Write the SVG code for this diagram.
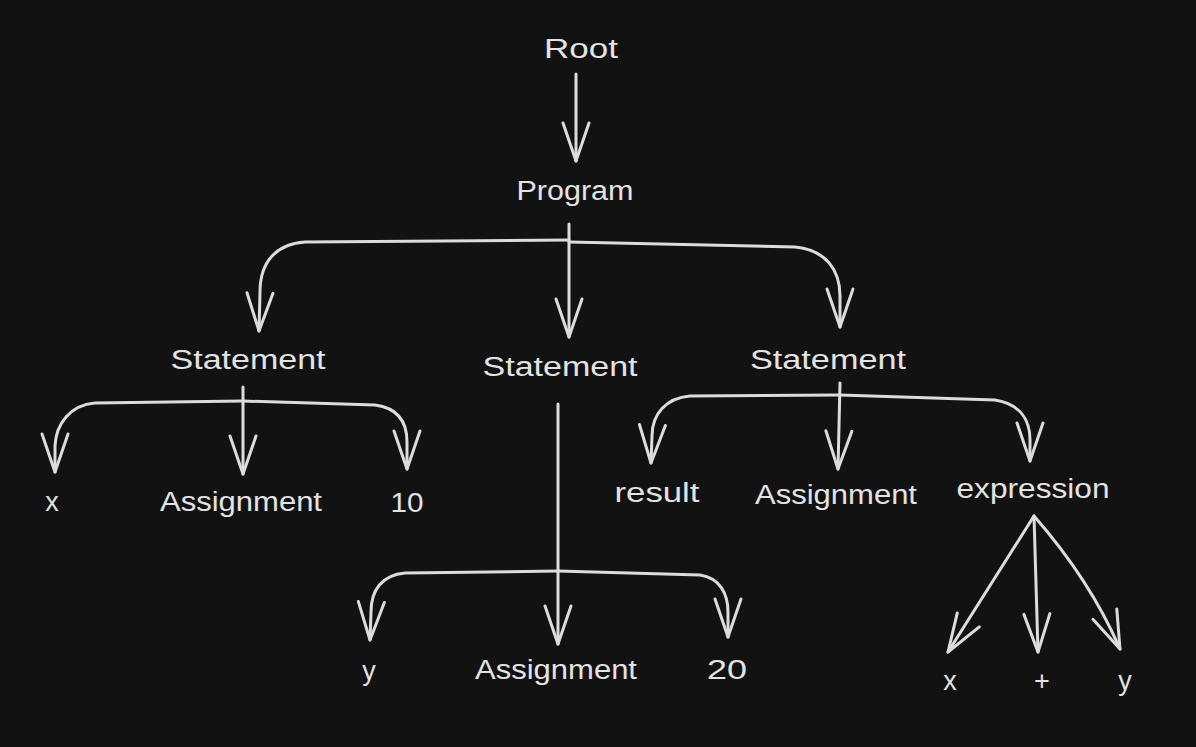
<svg xmlns="http://www.w3.org/2000/svg" width="1196" height="747" viewBox="0 0 1196 747">
<defs>
<style>
text{font-family:"Liberation Sans","Noto Sans",sans-serif;font-size:27px;fill:#e3e3e3;text-anchor:middle}
.c path{fill:none;stroke:#dcdcdc;stroke-width:3;stroke-linecap:round;stroke-linejoin:round;marker-end:url(#ah)}
</style>
<marker id="ah" markerUnits="userSpaceOnUse" markerWidth="60" markerHeight="60" refX="0" refY="0" orient="auto" overflow="visible">
<path d="M -38 -13 L 0 0 L -38 13" fill="none" stroke="#dcdcdc" stroke-width="3" stroke-linecap="round" stroke-linejoin="round"/>
</marker>
</defs>
<rect width="1196" height="747" fill="#121212"/>
<g class="c" id="connectors">
<path d="M 576 74 L 576 161"/>
<path d="M 569 224 L 569 337"/>
<path d="M 569 240 L 305 242 C 276 244 260 262 260 292 L 259 331"/>
<path d="M 569 242 L 795 247 C 826 250 840 270 840 296 L 840 327"/>
<path d="M 243 387 L 243 474"/>
<path d="M 243 401 L 95 403 C 70 405 56 424 55 446 L 55 472"/>
<path d="M 243 401 L 375 405 C 398 408 407 422 407 442 L 407 469"/>
<path d="M 558 404 L 558 644"/>
<path d="M 558 571 L 405 573 C 382 575 371 590 371 612 L 370 640"/>
<path d="M 558 571 L 700 575 C 720 578 728 594 728 612 L 728 637"/>
<path d="M 840 383 L 838 469"/>
<path d="M 840 395 L 690 396 C 666 398 652 414 652 436 L 651 463"/>
<path d="M 840 395 L 995 400 C 1020 404 1030 420 1030 440 L 1030 461"/>
<path d="M 1034 516 L 948 652"/>
<path d="M 1034 516 L 1038 652"/>
<path d="M 1034 516 Q 1090 580 1120 649"/>
</g>
<g id="root"><text x="581" y="58" textLength="74" lengthAdjust="spacingAndGlyphs">Root</text></g>
<g id="program"><text x="575" y="200" textLength="117" lengthAdjust="spacingAndGlyphs">Program</text></g>
<g id="statement1"><text x="248" y="369" textLength="155" lengthAdjust="spacingAndGlyphs">Statement</text></g>
<g id="statement2"><text x="560" y="376" textLength="155" lengthAdjust="spacingAndGlyphs">Statement</text></g>
<g id="statement3"><text x="828" y="369" textLength="156" lengthAdjust="spacingAndGlyphs">Statement</text></g>
<g id="x1"><text x="52" y="511">x</text></g>
<g id="assignment1"><text x="241" y="511" textLength="162" lengthAdjust="spacingAndGlyphs">Assignment</text></g>
<g id="ten"><text x="407" y="512" textLength="33" lengthAdjust="spacingAndGlyphs">10</text></g>
<g id="result"><text x="657" y="502" textLength="85" lengthAdjust="spacingAndGlyphs">result</text></g>
<g id="assignment3"><text x="836" y="504" textLength="162" lengthAdjust="spacingAndGlyphs">Assignment</text></g>
<g id="expression"><text x="1033" y="498" textLength="153" lengthAdjust="spacingAndGlyphs">expression</text></g>
<g id="y1"><text x="369" y="680">y</text></g>
<g id="assignment2"><text x="556" y="679" textLength="162" lengthAdjust="spacingAndGlyphs">Assignment</text></g>
<g id="twenty"><text x="727" y="679" textLength="40" lengthAdjust="spacingAndGlyphs">20</text></g>
<g id="x2"><text x="950" y="690">x</text></g>
<g id="plus"><text x="1042" y="690">+</text></g>
<g id="y2"><text x="1125" y="690">y</text></g>
</svg>
